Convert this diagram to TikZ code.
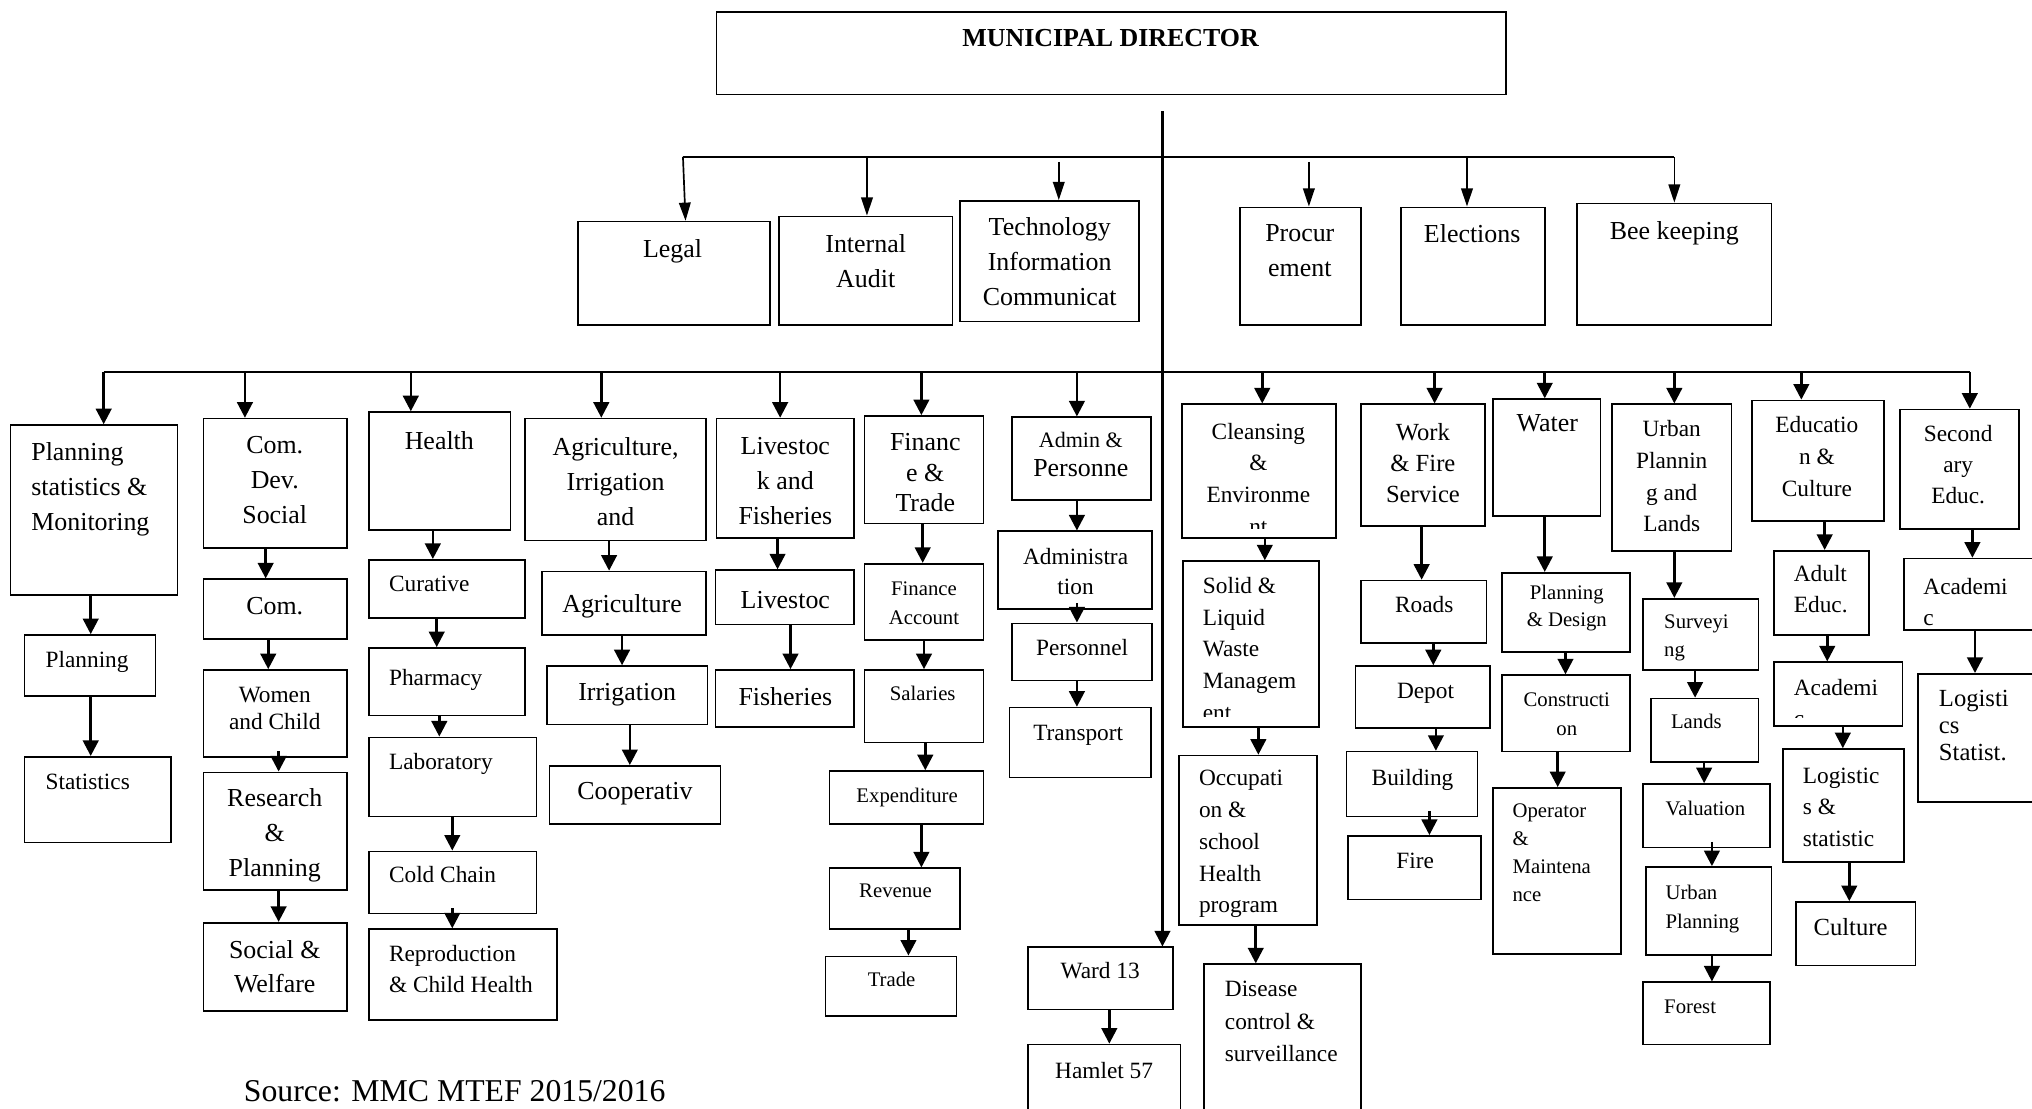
\documentclass[tikz,border=0pt]{standalone}
\usepackage{fontspec}
\setmainfont{Liberation Serif}
\usetikzlibrary{arrows.meta,fit,calc}
\tikzset{
  box/.style={draw, line width=1.3pt, inner sep=0pt},
  arr/.style={-{Triangle[length=12pt,width=12pt]}, line width=2pt},
  tarr/.style={-{Triangle[length=14pt,width=9pt]}, line width=1.3pt},
  big/.style={font=\fontsize{20}{27}\selectfont, inner sep=0pt, yshift=7.6pt},
  med/.style={font=\fontsize{18}{24.5}\selectfont, inner sep=0pt, yshift=6.8pt},
  sml/.style={font=\fontsize{16}{22}\selectfont, inner sep=0pt, yshift=6pt},
  tc/.style={anchor=north, align=center},
  tl/.style={anchor=north west, align=left},
}
\newcommand\mybx[5]{\node[box, fit={(#2,#3)(#4,#5)}] (#1) {};}
\newcommand\mytx[5]{\node[#2] (#1) at (#3,#4) {#5};}
\newcommand\conn[3]{\draw[arr] (#1.south -| #3,0) -- (#2.north -| #3,0);}
\newcommand\connS[3]{\draw[arr] ($(#1.south -| #3,0)+(0,-5)$) -- (#2.north -| #3,0);}
\newcommand\drop[2]{\draw[arr] (b2l -| #2,0) -- (#1.north -| #2,0);}
\begin{document}
\begin{tikzpicture}[x=1pt,y=-1pt]
\useasboundingbox (0,0) rectangle (1568,855);
\fill[white] (0,0) rectangle (1568,855);

% top
\mybx{md}{553}{9}{1162}{73}
\mytx{mdt}{big,tc,font=\bfseries\fontsize{20}{24}\selectfont}{857}{30}{MUNICIPAL DIRECTOR}
\mybx{legal}{446}{171}{594}{251}
\mytx{legalt}{big,tc}{519}{192}{Legal}
\mybx{audit}{601}{167}{735}{251}
\mytx{auditt}{big,tc}{668}{188}{Internal\\Audit}
\mybx{ict}{741}{155}{879}{248}
\mytx{ictt}{big,tc}{810}{175}{Technology\\Information\\Communicat}
\mybx{proc}{957}{160}{1050}{251}
\mytx{proct}{big,tc}{1003}{181}{Procur\\ement}
\mybx{elect}{1081}{160}{1192}{251}
\mytx{electt}{big,tc}{1136}{181}{Elections}
\mybx{bee}{1217}{157}{1367}{251}
\mytx{beet}{big,tc}{1292}{178}{Bee keeping}

\coordinate (b1l) at (527,121);
\coordinate (b1r) at (1292,121);
\draw[line width=1.6pt] (b1l) -- (b1r);
\draw[tarr] (b1l) -- (legal.north -| 529,0);
\draw[tarr] (b1l -| 669,0) -- (audit.north -| 669,0);
\draw[tarr] ($(b1l -| 817,0)+(0,4)$) -- (ict.north -| 817,0);
\draw[tarr] ($(b1l -| 1010,0)+(0,4)$) -- (proc.north -| 1010,0);
\draw[tarr] (b1l -| 1132,0) -- (elect.north -| 1132,0);
\draw[tarr] (b1r) -- (bee.north -| b1r);

% second level bar
\coordinate (b2l) at (80,287);
\coordinate (b2r) at (1520,287);
\draw[line width=1.7pt] (b2l) -- (b2r);

% Planning statistics
\mybx{pl}{8}{328}{137}{459}
\mytx{plt}{big,tl}{24}{349}{Planning\\statistics \&\\Monitoring}
\mybx{pl1}{19}{490}{120}{537}
\mytx{pl1t}{med,tl}{35}{509}{Planning}
\mybx{pl2}{19}{584}{132}{650}
\mytx{pl2t}{med,tl}{35}{604}{Statistics}
% Com Dev
\mybx{cd}{157}{323}{268}{423}
\mytx{cdt}{big,tc}{212}{344}{Com.\\Dev.\\Social}
\mybx{cd1}{157}{447}{268}{493}
\mytx{cd1t}{big,tc}{212}{468}{Com.}
\mybx{cd2}{157}{517}{268}{584}
\mytx{cd2t}{med,tc,font=\fontsize{18}{21}\selectfont}{212}{537}{Women\\and Child}
\mybx{cd3}{157}{596}{268}{687}
\mytx{cd3t}{big,tc}{212}{616}{Research\\\&\\Planning}
\mybx{cd4}{157}{712}{268}{780}
\mytx{cd4t}{big,tc,font=\fontsize{20}{26}\selectfont}{212}{733}{Social \&\\Welfare}
% Health
\mybx{he}{285}{318}{394}{409}
\mytx{het}{big,tc}{339}{340}{Health}
\mybx{he1}{285}{432}{405}{477}
\mytx{he1t}{med,tl}{300}{451}{Curative}
\mybx{he2}{285}{500}{405}{552}
\mytx{he2t}{med,tl}{300}{523}{Pharmacy}
\mybx{he3}{285}{569}{414}{630}
\mytx{he3t}{med,tl}{300}{588}{Laboratory}
\mybx{he4}{285}{657}{414}{705}
\mytx{he4t}{med,tl}{300}{675}{Cold Chain}
\mybx{he5}{285}{717}{430}{787}
\mytx{he5t}{med,tl,font=\fontsize{18}{24}\selectfont}{300}{736}{Reproduction\\\& Child Health}
% Agriculture
\mybx{ag}{405}{323}{545}{417}
\mytx{agt}{big,tc}{475}{345}{Agriculture,\\Irrigation\\and}
\mybx{ag1}{418}{441}{545}{490}
\mytx{ag1t}{big,tc}{480}{466}{Agriculture}
\mybx{ag2}{422}{514}{546}{559}
\mytx{ag2t}{big,tc}{484}{535}{Irrigation}
\mybx{ag3}{424}{591}{556}{636}
\mytx{ag3t}{big,tc}{490}{611}{Cooperativ}
% Livestock
\mybx{li}{553}{323}{659}{415}
\mytx{lit}{big,tc}{606}{345}{Livestoc\\k and\\Fisheries}
\mybx{li1}{552}{440}{659}{482}
\mytx{li1t}{big,tc}{606}{464}{Livestoc}
\mybx{li2}{552}{517}{659}{561}
\mytx{li2t}{big,tc}{606}{538}{Fisheries}
% Finance
\mybx{fi}{667}{321}{759}{404}
\mytx{fit}{big,tc,font=\fontsize{20}{23.5}\selectfont}{714}{342}{Financ\\e \&\\Trade}
\mybx{fi1}{667}{435}{759}{494}
\mytx{fi1t}{sml,tc}{713}{455}{Finance\\Account}
\mybx{fi2}{667}{517}{759}{573}
\mytx{fi2t}{sml,tc}{712}{535}{Salaries}
\mybx{fi3}{640}{595}{759}{636}
\mytx{fi3t}{sml,tc}{700}{614}{Expenditure}
\mybx{fi4}{640}{670}{741}{717}
\mytx{fi4t}{sml,tc}{691}{688}{Revenue}
\mybx{fi5}{637}{738}{738}{784}
\mytx{fi5t}{sml,tc}{688}{756}{Trade}
% Admin
\mybx{ad}{781}{322}{888}{386}
\mytx{adt}{big,tc,font=\fontsize{20}{22}\selectfont}{834}{341}{{\fontsize{17}{22}\selectfont Admin \&}\\Personne}
\mybx{ad1}{770}{410}{889}{470}
\mytx{ad1t}{med,tc,font=\fontsize{18}{23}\selectfont}{830}{430}{Administra\\tion}
\mybx{ad2}{781}{481}{889}{525}
\mytx{ad2t}{med,tc}{835}{500}{Personnel}
\mybx{ad3}{779}{546}{888}{600}
\mytx{ad3t}{med,tc}{832}{566}{Transport}
% Cleansing
\mybx{cl}{912}{312}{1031}{415}
\begin{scope}
\clip (912,312) rectangle (1031,408);
\mytx{clt}{med,tc}{971}{333}{Cleansing\\\&\\Environme\\nt}
\end{scope}
\mybx{cl1}{913}{433}{1018}{561}
\begin{scope}
\clip (913,433) rectangle (1018,553);
\mytx{cl1t}{med,tl}{928}{452}{Solid \&\\Liquid\\Waste\\Managem\\ent}
\end{scope}
\mybx{cl2}{910}{583}{1016}{714}
\mytx{cl2t}{med,tl}{925}{601}{Occupati\\on \&\\school\\Health\\program}
\mybx{cl3}{929}{744}{1050}{862}
\mytx{cl3t}{med,tl,font=\fontsize{18}{25}\selectfont}{945}{764}{Disease\\control \&\\surveillance}
% Work & Fire
\mybx{wf}{1050}{312}{1146}{406}
\mytx{wft}{big,tc,font=\fontsize{19}{24}\selectfont}{1098}{334}{Work\\\& Fire\\Service}
\mybx{wf1}{1050}{448}{1147}{496}
\mytx{wf1t}{med,tc}{1099}{467}{Roads}
\mybx{wf2}{1046}{514}{1150}{562}
\mytx{wf2t}{med,tc}{1100}{534}{Depot}
\mybx{wf3}{1039}{580}{1140}{630}
\mytx{wf3t}{med,tc}{1090}{600}{Building}
\mybx{wf4}{1040}{645}{1143}{694}
\mytx{wf4t}{med,tc}{1092}{665}{Fire}
% Water
\mybx{wa}{1152}{308}{1235}{398}
\mytx{wat}{big,tc}{1194}{327}{Water}
\mybx{wa1}{1159}{442}{1258}{503}
\mytx{wa1t}{sml,tc,font=\fontsize{16}{21}\selectfont}{1209}{457}{Planning\\\& Design}
\mybx{wa2}{1159}{521}{1258}{580}
\mytx{wa2t}{sml,tc,font=\fontsize{16}{23}\selectfont}{1209}{540}{Constructi\\on}
\mybx{wa3}{1152}{608}{1251}{736}
\mytx{wa3t}{sml,tl,font=\fontsize{16}{21.5}\selectfont}{1167}{626}{Operator\\\&\\Maintena\\nce}
% Urban planning
\mybx{ur}{1244}{312}{1336}{425}
\mytx{urt}{med,tc}{1290}{331}{Urban\\Plannin\\g and\\Lands}
\mybx{ur1}{1268}{462}{1357}{517}
\mytx{ur1t}{sml,tl}{1284}{480}{Surveyi\\ng}
\mybx{ur2}{1274}{539}{1357}{588}
\mytx{ur2t}{sml,tc}{1309}{557}{Lands}
\mybx{ur3}{1268}{605}{1366}{654}
\mytx{ur3t}{sml,tc}{1316}{624}{Valuation}
\mybx{ur4}{1270}{669}{1367}{737}
\mytx{ur4t}{sml,tl}{1285}{689}{Urban\\Planning}
\mybx{ur5}{1268}{758}{1366}{806}
\mytx{ur5t}{sml,tl}{1284}{777}{Forest}
% Education
\mybx{ed}{1352}{309}{1454}{402}
\mytx{edt}{med,tc}{1402}{328}{Educatio\\n \&\\Culture}
\mybx{ed1}{1369}{425}{1442}{490}
\mytx{ed1t}{med,tl,font=\fontsize{18}{24}\selectfont}{1384}{443}{Adult\\Educ.}
\mybx{ed2}{1369}{511}{1468}{560}
\begin{scope}
\clip (1369,511) rectangle (1468,554);
\mytx{ed2t}{med,tl,font=\fontsize{18}{24}\selectfont}{1384}{531}{Academi\\c}
\end{scope}
\mybx{ed3}{1376}{578}{1469}{665}
\mytx{ed3t}{med,tl}{1391}{599}{Logistic\\s \&\\statistic}
\mybx{ed4}{1386}{696}{1478}{745}
\mytx{ed4t}{med,tc,font=\fontsize{19}{24}\selectfont}{1428}{715}{Culture}
% Secondary
\mybx{se}{1466}{316}{1558}{408}
\mytx{set}{med,tc,font=\fontsize{18}{24}\selectfont}{1511}{335}{Second\\ary\\Educ.}
\mybx{se1}{1469}{431}{1572}{486}
\mytx{se1t}{med,tl,font=\fontsize{18}{24}\selectfont}{1484}{453}{Academi\\c}
\mybx{se2}{1480}{520}{1572}{619}
\mytx{se2t}{med,tl,font=\fontsize{19}{21}\selectfont}{1496}{539}{Logisti\\cs\\Statist.}
% Ward / Hamlet
\mybx{w13}{793}{731}{905}{779}
\mytx{w13t}{med,tc}{849}{749}{Ward 13}
\mybx{ham}{793}{806}{911}{862}
\mytx{hamt}{med,tc}{852}{826}{Hamlet 57}

% spine
\coordinate (sp) at (897,86);
\draw[-{Triangle[length=12pt,width=12pt]}, line width=1.8pt] (sp) -- (w13.north -| sp);

% drops from bar 2
\drop{pl}{80}
\drop{cd}{189}
\drop{he}{317}
\drop{ag}{464}
\drop{li}{602}
\drop{fi}{711}
\drop{ad}{831}
\drop{cl}{974}
\drop{wf}{1107}
\drop{wa}{1192}
\drop{ur}{1292}
\drop{ed}{1390}
\drop{se}{1520}

% sub connectors
\conn{pl}{pl1}{70}
\conn{pl1}{pl2}{70}
\conn{cd}{cd1}{205}
\conn{cd1}{cd2}{207}
\connS{cd2}{cd3}{215}
\conn{cd3}{cd4}{215}
\conn{he}{he1}{334}
\conn{he1}{he2}{337}
\conn{he2}{he3}{339}
\conn{he3}{he4}{349}
\connS{he4}{he5}{349}
\conn{ag}{ag1}{470}
\conn{ag1}{ag2}{480}
\conn{ag2}{ag3}{486}
\conn{li}{li1}{600}
\conn{li1}{li2}{610}
\conn{fi}{fi1}{712}
\conn{fi1}{fi2}{713}
\conn{fi2}{fi3}{714}
\conn{fi3}{fi4}{711}
\conn{fi4}{fi5}{701}
\conn{ad}{ad1}{831}
\connS{ad1}{ad2}{831}
\conn{ad2}{ad3}{831}
\conn{cl}{cl1}{976}
\conn{cl1}{cl2}{971}
\conn{cl2}{cl3}{969}
\conn{wf}{wf1}{1097}
\conn{wf1}{wf2}{1106}
\conn{wf2}{wf3}{1108}
\connS{wf3}{wf4}{1103}
\conn{wa}{wa1}{1192}
\conn{wa1}{wa2}{1208}
\conn{wa2}{wa3}{1202}
\conn{ur}{ur1}{1292}
\conn{ur1}{ur2}{1308}
\conn{ur2}{ur3}{1315}
\connS{ur3}{ur4}{1321}
\conn{ur4}{ur5}{1321}
\conn{ed}{ed1}{1408}
\conn{ed1}{ed2}{1410}
\conn{ed2}{ed3}{1422}
\conn{ed3}{ed4}{1427}
\conn{se}{se1}{1522}
\conn{se1}{se2}{1524}
\conn{w13}{ham}{856}

% source
\node[anchor=base west, inner sep=0pt, font=\fontsize{24.5}{28}\selectfont] (src) at (188,850) {Source: MMC MTEF 2015/2016};
\end{tikzpicture}
\end{document}
